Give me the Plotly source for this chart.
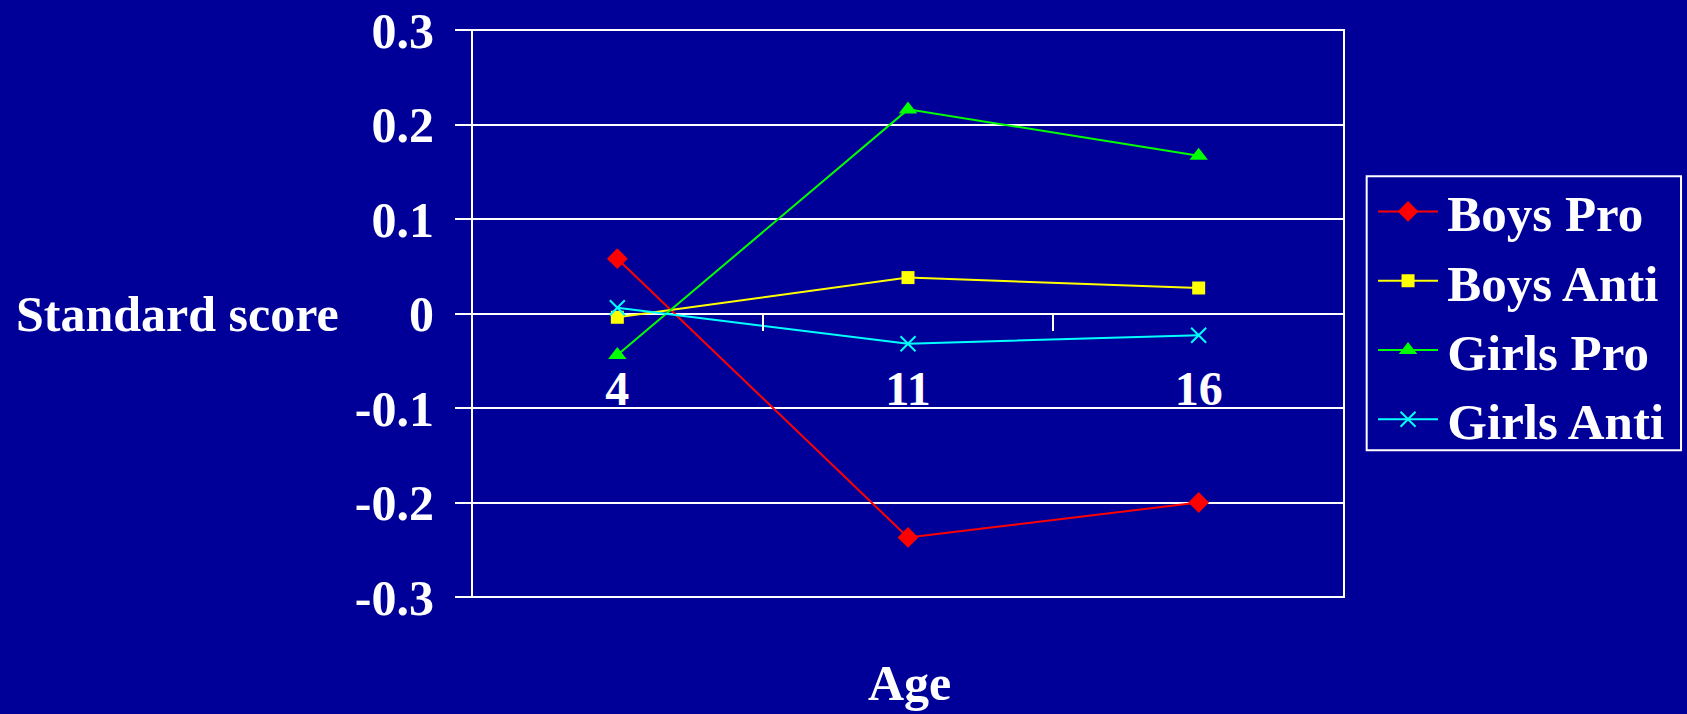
import plotly.graph_objects as go

ages = ["4", "11", "16"]
boys_pro = [0.058, -0.237, -0.200]
boys_anti = [-0.004, 0.038, 0.027]
girls_pro = [-0.044, 0.216, 0.167]
girls_anti = [0.006, -0.032, -0.023]
y_ticks = [0.3, 0.2, 0.1, 0, -0.1, -0.2, -0.3]
y_tick_labels = ["0.3", "0.2", "0.1", "0", "-0.1", "-0.2", "-0.3"]

BG = "#000099"
FONT = "Liberation Serif"
GAP = "\u200a"

series = [
    ("Boys Pro", boys_pro, "#FF0000", "diamond", 16),
    ("Boys Anti", boys_anti, "#FFFF00", "square", 13),
    ("Girls Pro", girls_pro, "#00FF00", "triangle-up", 16),
    ("Girls Anti", girls_anti, "#00FFFF", "x-thin", 15),
]

fig = go.Figure()
for name, vals, color, sym, size in series:
    marker = dict(symbol=sym, size=size, color=color)
    if sym == "x-thin":
        marker["line"] = dict(color=color, width=2)
    else:
        marker["line"] = dict(width=0)
    fig.add_trace(go.Scatter(
        x=ages, y=vals, name=GAP + name, mode="lines+markers",
        line=dict(color=color, width=2), marker=marker,
    ))

fig.update_layout(
    width=1687, height=714,
    margin=dict(l=472, r=343, t=30, b=117, autoexpand=False),
    paper_bgcolor=BG, plot_bgcolor=BG,
    font=dict(family=FONT, color="white", size=48, weight="bold"),
    showlegend=True,
    legend=dict(
        x=1.0333, y=0.750, xanchor="left", yanchor="top",
        borderwidth=0, bgcolor="rgba(0,0,0,0)",
        font=dict(family=FONT, size=51, color="white", weight="bold"),
        itemwidth=60, tracegroupgap=0,
    ),
    xaxis=dict(
        type="category", range=[-0.5, 2.5], automargin=False,
        anchor="free", position=0.5,
        showgrid=False, showline=False, zeroline=False,
        ticks="outside", tickson="boundaries", ticklen=16, tickwidth=2,
        tickcolor="white", ticklabelstandoff=42,
        tickfont=dict(family=FONT, size=48, color="white", weight="bold"),
    ),
    yaxis=dict(
        range=[-0.3, 0.3], tickmode="array", tickvals=y_ticks, ticktext=y_tick_labels,
        automargin=False,
        showgrid=True, gridcolor="white", gridwidth=2,
        zeroline=True, zerolinecolor="white", zerolinewidth=2,
        showline=False, ticks="outside", ticklen=16, tickwidth=2, tickcolor="white",
        ticklabelstandoff=11,
        tickfont=dict(family=FONT, size=50, color="white", weight="bold"),
    ),
    shapes=[
        dict(type="rect", xref="paper", yref="paper", x0=0, x1=1, y0=0, y1=1,
             line=dict(color="white", width=2), layer="above"),
        dict(type="rect", xref="paper", yref="paper", x0=1.026, x1=1.3865, y0=0.259, y1=0.742,
             line=dict(color="white", width=2), layer="above"),
    ],
    annotations=[
        dict(text="Standard score", xref="paper", yref="y", x=-0.3377, y=0,
             xanchor="center", yanchor="middle", showarrow=False,
             font=dict(family=FONT, size=50, color="white", weight="bold")),
        dict(text="Age", xref="paper", yref="paper", x=0.502, y=-0.151,
             xanchor="center", yanchor="middle", showarrow=False,
             font=dict(family=FONT, size=50, color="white", weight="bold")),
    ],
)

fig.write_html(
    "out.html",
    config={"displayModeBar": False},
    post_script="document.body.style.margin='0';document.body.style.padding='0';"
                "document.body.style.overflow='hidden';"
                "document.documentElement.style.background='#000099';",
)
